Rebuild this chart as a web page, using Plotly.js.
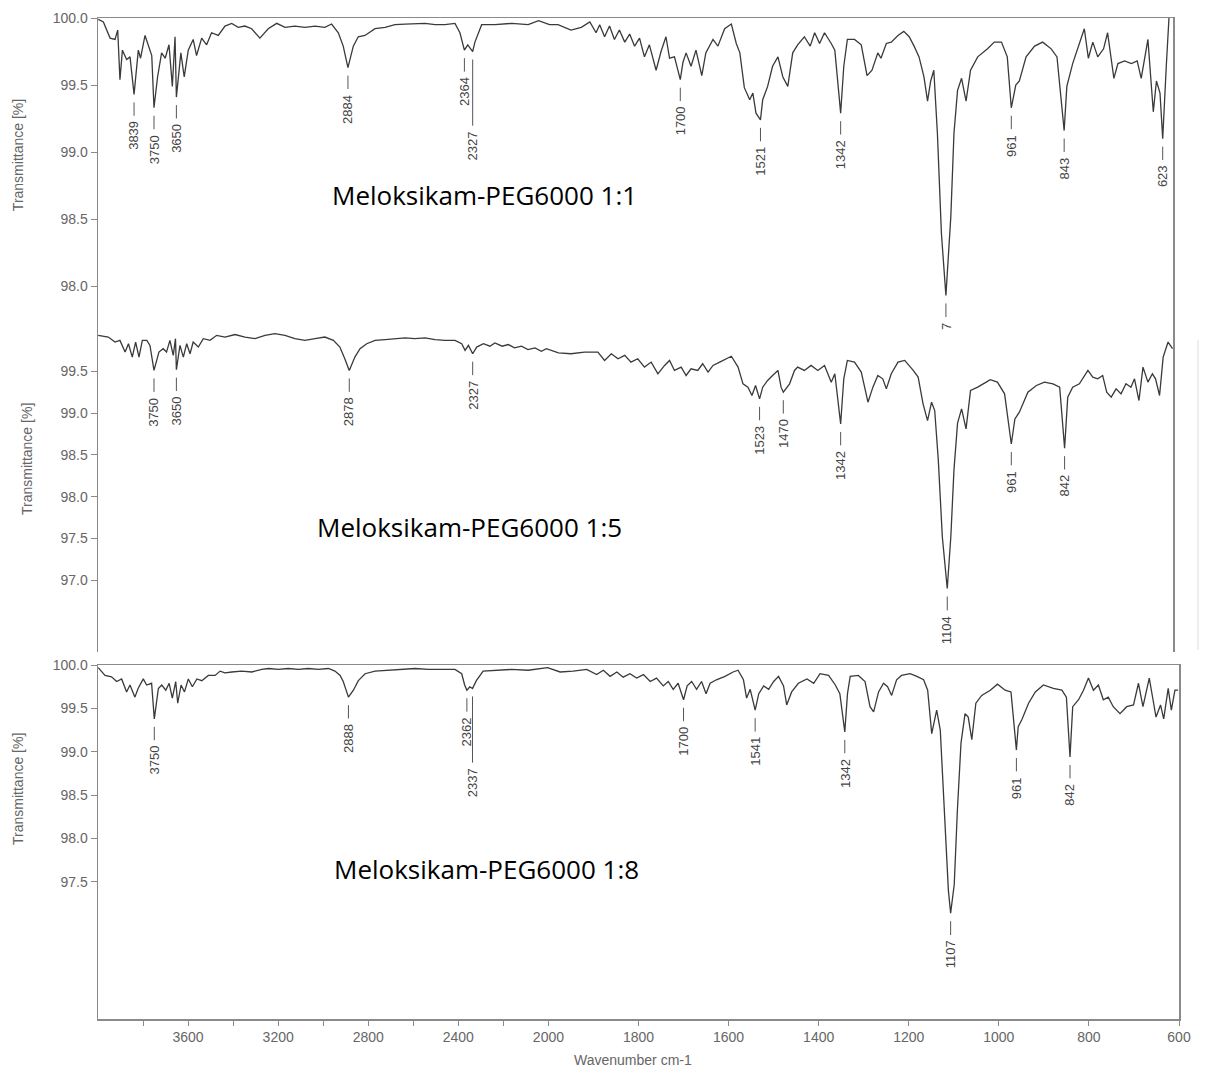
<!DOCTYPE html>
<html><head><meta charset="utf-8">
<script src="https://cdn.plot.ly/plotly-3.0.1.min.js"></script>
<style>html,body{margin:0;padding:0;background:#fff}#chart{width:1208px;height:1068px}</style>
</head><body><div id="chart"></div>
<script>
// ---- Meloksikam-PEG6000 1:1 ----
const p1Wn = [3999,3976,3946,3924,3912,3902,3891,3872,3857,3839,3820,3810,3790,3775,3760,3750,3734,3716,3700,3683,3668,3656,3650,3630,3615,3597,3575,3560,3537,3515,3493,3463,3433,3403,3374,3344,3314,3277,3240,3202,3165,3121,3076,3031,2987,2957,2927,2905,2884,2860,2838,2808,2763,2718,2674,2629,2585,2540,2495,2451,2406,2384,2364,2349,2327,2317,2287,2228,2153,2079,2033,1992,1973,1944,1921,1902,1888,1880,1869,1858,1847,1836,1824,1813,1802,1791,1780,1769,1754,1743,1732,1724,1713,1700,1694,1687,1676,1665,1652,1643,1627,1616,1601,1586,1575,1567,1557,1545,1538,1531,1521,1516,1505,1494,1482,1471,1460,1449,1438,1423,1410,1400,1389,1378,1363,1355,1342,1335,1327,1311,1296,1283,1272,1259,1252,1240,1229,1214,1201,1189,1178,1167,1156,1148,1141,1134,1126,1117,1107,1096,1089,1081,1072,1062,1052,1036,1014,999,983,970,961,951,943,928,909,891,872,859,843,837,824,809,798,789,779,768,755,746,732,723,708,693,680,671,656,644,637,629,623,615,609];
const p1T = [99.99,99.97,99.85,99.84,99.91,99.54,99.76,99.69,99.71,99.43,99.76,99.70,99.87,99.79,99.72,99.33,99.56,99.74,99.70,99.80,99.49,99.86,99.41,99.74,99.56,99.76,99.84,99.72,99.85,99.80,99.89,99.87,99.94,99.96,99.93,99.94,99.92,99.85,99.92,99.96,99.93,99.94,99.93,99.94,99.93,99.955,99.89,99.79,99.63,99.79,99.86,99.87,99.92,99.93,99.95,99.955,99.96,99.96,99.95,99.95,99.96,99.89,99.76,99.80,99.75,99.82,99.95,99.95,99.96,99.95,99.98,99.95,99.95,99.91,99.93,99.97,99.89,99.95,99.86,99.94,99.84,99.91,99.82,99.88,99.79,99.85,99.71,99.80,99.61,99.75,99.86,99.70,99.71,99.54,99.67,99.74,99.64,99.76,99.57,99.74,99.84,99.79,99.92,99.955,99.81,99.74,99.48,99.39,99.44,99.29,99.24,99.39,99.49,99.64,99.71,99.56,99.49,99.74,99.80,99.86,99.79,99.89,99.81,99.89,99.81,99.76,99.29,99.64,99.84,99.84,99.80,99.57,99.61,99.74,99.70,99.81,99.82,99.87,99.90,99.86,99.79,99.71,99.56,99.38,99.53,99.61,99.14,98.39,97.93,98.52,99.14,99.46,99.55,99.38,99.61,99.71,99.77,99.82,99.82,99.71,99.33,99.50,99.53,99.71,99.79,99.82,99.77,99.71,99.16,99.49,99.66,99.81,99.92,99.70,99.82,99.71,99.77,99.89,99.55,99.66,99.68,99.66,99.68,99.55,99.84,99.30,99.53,99.44,99.10,99.64,100.0];
const p1PeakWn = [3839,3750,3650,2884,2364,2327,1700,1521,1342,1107,961,843,623];
const p1PeakText = ['3839','3750','3650','2884','2364','2327','1700','1521','1342','7','961','843','623'];

// ---- Meloksikam-PEG6000 1:5 ----
const p2Wn = [3999,3954,3924,3902,3879,3864,3847,3832,3817,3802,3782,3768,3750,3728,3709,3694,3679,3664,3654,3650,3634,3619,3604,3589,3575,3552,3530,3500,3470,3433,3388,3344,3299,3254,3210,3165,3121,3076,3031,2987,2949,2920,2898,2878,2853,2830,2800,2763,2718,2674,2629,2585,2540,2495,2451,2406,2376,2361,2346,2327,2309,2279,2250,2228,2195,2168,2140,2109,2080,2049,2020,1999,1972,1944,1914,1884,1869,1854,1839,1824,1810,1795,1780,1765,1750,1735,1724,1713,1698,1687,1676,1661,1650,1638,1627,1612,1598,1586,1571,1560,1549,1540,1532,1523,1516,1505,1494,1482,1475,1470,1456,1445,1438,1423,1408,1393,1378,1363,1355,1342,1335,1327,1311,1296,1281,1270,1259,1248,1240,1229,1214,1199,1180,1169,1158,1148,1139,1132,1124,1115,1104,1096,1089,1081,1072,1062,1052,1036,1017,1008,992,976,961,953,943,924,905,887,868,853,842,835,824,809,790,779,768,757,748,738,727,716,705,694,686,676,667,656,646,639,630,622,611,601];
const p2T = [99.93,99.91,99.85,99.87,99.73,99.83,99.67,99.85,99.67,99.87,99.87,99.81,99.51,99.73,99.77,99.73,99.87,99.69,99.89,99.52,99.81,99.67,99.83,99.71,99.85,99.79,99.89,99.87,99.93,99.91,99.94,99.91,99.89,99.93,99.95,99.93,99.89,99.87,99.89,99.91,99.87,99.79,99.65,99.51,99.67,99.77,99.83,99.87,99.88,99.89,99.90,99.89,99.90,99.88,99.87,99.87,99.83,99.75,99.81,99.71,99.79,99.83,99.80,99.84,99.80,99.82,99.78,99.80,99.76,99.78,99.74,99.77,99.72,99.71,99.73,99.73,99.63,99.71,99.65,99.69,99.61,99.65,99.55,99.61,99.47,99.57,99.63,99.51,99.55,99.45,99.53,99.51,99.59,99.49,99.57,99.61,99.65,99.68,99.55,99.35,99.31,99.21,99.33,99.17,99.31,99.39,99.45,99.51,99.31,99.25,99.35,99.51,99.55,99.51,99.57,99.51,99.57,99.37,99.47,98.87,99.41,99.63,99.61,99.49,99.13,99.31,99.45,99.41,99.29,99.47,99.61,99.63,99.51,99.43,99.11,98.91,99.13,99.03,98.44,97.52,96.90,97.52,98.32,98.88,99.05,98.81,99.27,99.31,99.37,99.40,99.37,99.23,98.63,98.93,99.01,99.25,99.33,99.37,99.35,99.31,98.58,99.19,99.31,99.35,99.51,99.43,99.41,99.45,99.25,99.19,99.29,99.23,99.35,99.31,99.41,99.15,99.55,99.37,99.47,99.41,99.21,99.67,99.85,99.77];
const p2PeakWn = [3750,3650,2878,2327,1523,1470,1342,1104,961,842];
const p2PeakText = ['3750','3650','2878','2327','1523','1470','1342','1104','961','842'];

// ---- Meloksikam-PEG6000 1:8 ----
const p3Wn = [3999,3969,3940,3917,3895,3873,3858,3836,3822,3799,3784,3762,3750,3732,3717,3699,3684,3670,3655,3646,3631,3616,3599,3581,3561,3539,3510,3480,3458,3436,3406,3362,3317,3273,3243,3199,3155,3110,3066,3022,2977,2948,2925,2911,2888,2866,2844,2814,2770,2711,2652,2592,2533,2474,2415,2385,2372,2362,2349,2337,2320,2290,2238,2164,2090,2016,2004,1974,1945,1915,1893,1878,1863,1848,1834,1819,1804,1789,1774,1760,1745,1734,1723,1712,1700,1692,1682,1671,1660,1650,1641,1627,1608,1590,1579,1567,1560,1552,1546,1541,1533,1522,1511,1500,1489,1478,1471,1460,1445,1426,1411,1397,1378,1363,1353,1342,1336,1330,1312,1297,1286,1278,1267,1256,1247,1238,1227,1216,1197,1182,1167,1158,1149,1138,1130,1121,1112,1107,1099,1092,1084,1075,1068,1060,1051,1038,1019,1003,986,973,961,957,949,934,919,901,879,860,850,842,836,823,812,801,790,779,768,757,746,731,716,701,690,680,666,657,651,641,634,624,617,609,602];
const p3T = [99.97,99.88,99.865,99.81,99.84,99.69,99.77,99.63,99.73,99.84,99.77,99.79,99.38,99.73,99.77,99.71,99.79,99.62,99.81,99.56,99.77,99.69,99.84,99.75,99.84,99.82,99.88,99.88,99.93,99.91,99.92,99.93,99.92,99.95,99.96,99.95,99.96,99.95,99.96,99.95,99.96,99.93,99.88,99.81,99.63,99.71,99.82,99.90,99.93,99.94,99.95,99.96,99.95,99.95,99.95,99.90,99.77,99.71,99.75,99.73,99.82,99.93,99.94,99.95,99.94,99.96,99.97,99.92,99.93,99.95,99.89,99.94,99.87,99.92,99.86,99.90,99.85,99.89,99.81,99.85,99.76,99.81,99.72,99.79,99.60,99.76,99.81,99.72,99.81,99.67,99.79,99.83,99.87,99.92,99.94,99.83,99.62,99.72,99.58,99.48,99.67,99.76,99.72,99.81,99.87,99.76,99.54,99.69,99.79,99.84,99.79,99.90,99.88,99.77,99.67,99.23,99.67,99.87,99.88,99.81,99.52,99.46,99.69,99.79,99.75,99.65,99.83,99.88,99.90,99.87,99.83,99.71,99.21,99.48,99.25,98.25,97.40,97.14,97.47,98.33,99.10,99.44,99.40,99.14,99.56,99.65,99.71,99.78,99.71,99.69,99.02,99.29,99.37,99.56,99.69,99.77,99.73,99.71,99.63,98.94,99.52,99.60,99.71,99.85,99.71,99.77,99.60,99.63,99.52,99.44,99.52,99.54,99.79,99.52,99.85,99.58,99.40,99.54,99.38,99.73,99.48,99.71,99.71];
const p3PeakWn = [3750,2888,2362,2337,1700,1541,1342,1107,961,842];
const p3PeakText = ['3750','2888','2362','2337','1700','1541','1342','1107','961','842'];

const sampleNames = ['Meloksikam-PEG6000 1:1','Meloksikam-PEG6000 1:5','Meloksikam-PEG6000 1:8'];
const xTickWn = [3800,3600,3400,3200,3000,2800,2600,2400,2200,2000,1800,1600,1400,1200,1000,800,600];
const xTickText = ['','3600','','3200','','2800','','2400','','2000','1800','1600','1400','1200','1000','800','600'];
const y1Ticks = [100.0,99.5,99.0,98.5,98.0];
const y2Ticks = [99.5,99.0,98.5,98.0,97.5,97.0];
const y3Ticks = [100.0,99.5,99.0,98.5,98.0,97.5];

// Wavenumber axis: the region above 2000 cm-1 is drawn at half scale
function u(w){ return w > 2000 ? 2000 + (w - 2000) / 2 : w; }

const lineColor = '#3a3a3a';
const axColor = '#8a8a8a';
const tickFont = {family:'Arial, Liberation Sans, sans-serif', size:14, color:'#666'};

const traces = [
  {x:p1Wn.map(u), y:p1T, xaxis:'x', yaxis:'y'},
  {x:p2Wn.map(u), y:p2T, xaxis:'x2', yaxis:'y2'},
  {x:p3Wn.map(u), y:p3T, xaxis:'x3', yaxis:'y3'}
].map(t => Object.assign(t, {type:'scatter', mode:'lines', line:{color:lineColor, width:1.3}, hoverinfo:'skip'}));

function peakAnnots(wns, texts, sw, st, xr, yr){
  const out = [];
  let prevU = null, prevStag = false, prevLen = 0;
  wns.forEach((w, i) => {
    let best = 0;
    for (let j = 1; j < sw.length; j++) if (Math.abs(sw[j]-w) < Math.abs(sw[best]-w)) best = j;
    const len = texts[i].length * 7.2;
    let ay = 8 + 14 + 5 + len/2;
    let stag = false;
    if (prevU !== null && Math.abs(u(w)-prevU)*0.45 < 12 && !prevStag){ ay += prevLen + 24; stag = true; }
    out.push({x:u(w), y:st[best], xref:xr, yref:yr, text:texts[i], textangle:-90,
      showarrow:true, arrowhead:0, arrowwidth:1, arrowcolor:'#555', ax:0, ay:ay, standoff:8, borderpad:5,
      font:{family:'Arial, Liberation Sans, sans-serif', size:13, color:'#444'}});
    prevU = u(w); prevStag = stag; prevLen = len;
  });
  return out;
}

const annotations = [].concat(
  peakAnnots(p1PeakWn, p1PeakText, p1Wn, p1T, 'x', 'y'),
  peakAnnots(p2PeakWn, p2PeakText, p2Wn, p2T, 'x2', 'y2'),
  peakAnnots(p3PeakWn, p3PeakText, p3Wn, p3T, 'x3', 'y3')
);
const nameFont = {family:'Open Sans, sans-serif', size:26, color:'#000'};
const nameAt = [[0.358,0.823],[0.344,0.4915],[0.359,0.150]];
nameAt.forEach((p, i) => annotations.push({xref:'paper', yref:'paper', x:p[0], y:p[1], xanchor:'center', yanchor:'middle', text:sampleNames[i], showarrow:false, font:nameFont}));
const ytFont = {family:'Arial, Liberation Sans, sans-serif', size:14, color:'#666'};
[[-0.074,0.863],[-0.0657,0.5594],[-0.074,0.2298]].forEach(p => annotations.push({xref:'paper', yref:'paper', x:p[0], y:p[1], xanchor:'center', yanchor:'middle', text:'Transmittance [%]', textangle:-90, showarrow:false, font:ytFont}));
annotations.push({xref:'paper', yref:'paper', x:0.495, y:-0.041, xanchor:'center', yanchor:'middle', text:'Wavenumber cm-1', showarrow:false, font:ytFont});

function yax(dom, rng, ticks, anchor){
  return {domain:dom, range:rng, anchor:anchor, showline:true, mirror:true, linecolor:axColor, linewidth:1.5,
    ticks:'outside', ticklen:6, tickcolor:axColor, tickvals:ticks, tickformat:'.1f', tickfont:tickFont,
    showgrid:false, zeroline:false, fixedrange:true};
}

const layout = {
  width:1208, height:1068, margin:{l:98, r:29, t:18, b:49},
  paper_bgcolor:'#fff', plot_bgcolor:'#fff', showlegend:false,
  xaxis:{domain:[0,0.99445], range:[3000,600], anchor:'y', side:'top', showline:true, linecolor:axColor, linewidth:1.5, showticklabels:false, ticks:'', showgrid:false, zeroline:false},
  xaxis2:{domain:[0,0.99445], range:[3000,600], anchor:'y2', showline:false, showticklabels:false, ticks:'', showgrid:false, zeroline:false},
  xaxis3:{domain:[0,1], range:[3000,600], anchor:'y3', showline:true, mirror:true, linecolor:axColor, linewidth:1.5,
    ticks:'outside', ticklen:5, tickcolor:axColor, tickvals:xTickWn.map(u), ticktext:xTickText, tickfont:tickFont, showgrid:false, zeroline:false},
  yaxis:yax([0.6863,1], [97.657,100], y1Ticks, 'x'),
  yaxis2:yax([0.3666,0.6863], [96.14,99.97], y2Ticks, 'x2'),
  yaxis3:yax([0,0.3536], [95.92,100], y3Ticks, 'x3'),
  annotations:annotations,
  shapes:[{type:'line', xref:'paper', yref:'paper', x0:1.0176, x1:1.0176, y0:0.3686, y1:0.678, line:{color:'#ddd', width:1}}]
};

Plotly.newPlot('chart', traces, layout, {staticPlot:true, displayModeBar:false});
</script></body></html>
